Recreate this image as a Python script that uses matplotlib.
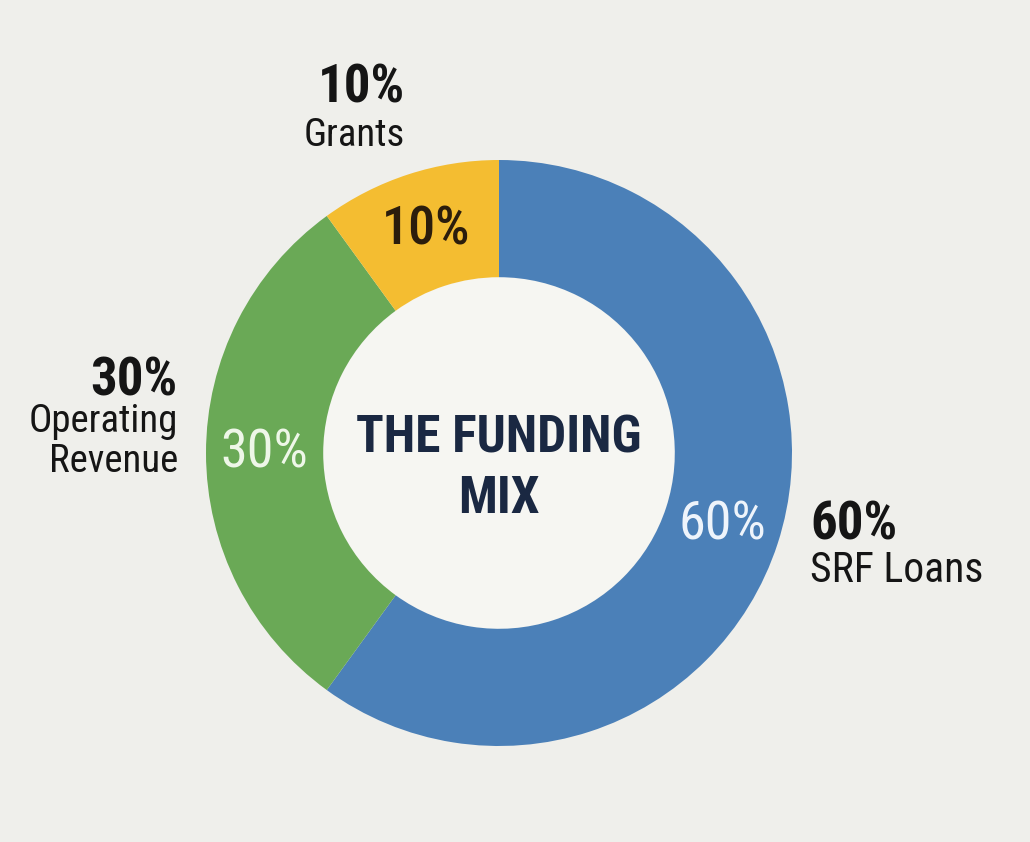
import matplotlib
matplotlib.use('Agg')
import matplotlib.pyplot as plt
from matplotlib import font_manager
from matplotlib.patches import Circle

# data
sources = ['SRF Loans', 'Operating Revenue', 'Grants']
shares = [60, 30, 10]
outer_names = ['SRF Loans', 'Operating\nRevenue', 'Grants']
center_title = ['THE FUNDING', 'MIX']

slice_colors = ['#4b80b8', '#6aa956', '#f4bd31']
pct_colors = ['#eef4fb', '#eef7e8', '#2b1d0c']
bg_color = '#efefeb'
hole_color = '#f6f6f2'


def pick_font(candidates):
    """return the first installed family of the candidates"""
    for name in candidates:
        try:
            font_manager.findfont(font_manager.FontProperties(family=name), fallback_to_default=False)
            return name
        except ValueError:
            pass
    return 'DejaVu Sans'


font = pick_font(['Roboto Condensed', 'Liberation Sans Narrow', 'DejaVu Sans Condensed', 'Roboto'])
plt.rcParams['font.family'] = [font, 'DejaVu Sans']

W, H = 1030, 842
cx, cy, R = 499, 453, 293  # donut centre and radius in pixels


def px(x, y):
    # pixel position (from top left) -> data units of the pie
    return (x - cx) / R, (cy - y) / R


fig = plt.figure(figsize=(W / 100, H / 100), dpi=100, facecolor=bg_color)
ax = fig.add_axes([0, 0, 1, 1])
ax.set_facecolor(bg_color)

ax.add_patch(Circle((0, 0), 0.6, color=hole_color, zorder=0))
wedges, _, autotexts = ax.pie(
    shares, colors=slice_colors, startangle=90, counterclock=False, radius=1,
    wedgeprops=dict(width=0.4, edgecolor='none'),
    autopct=lambda p: '{:.0f}%'.format(p), pctdistance=0.8,
)
for t, c, s in zip(autotexts, pct_colors, shares):
    t.set_color(c)
    t.set_fontsize(39)
    t.set_fontweight('medium' if s == 10 else 'normal')

# outer labels: pct baseline, first name baseline, alignment, name size
outer_pos = [((810, 540), (810, 582), 'left', 30),
             ((178, 396), (178, 432), 'right', 28),
             ((405, 103), (405, 146), 'right', 28)]
line_step = 40  # px between the name lines
for s, name, (p_pos, n_pos, ha, nsize) in zip(shares, outer_names, outer_pos):
    ax.text(*px(*p_pos), '{}%'.format(s), ha=ha, va='baseline', fontsize=38,
            fontweight='bold', color='#151515')
    for i, line in enumerate(name.split('\n')):
        ax.text(*px(n_pos[0], n_pos[1] + i * line_step), line, ha=ha, va='baseline',
                fontsize=nsize, color='#151515')

ax.text(*px(cx, 453), center_title[0], ha='center', va='baseline', fontsize=37,
        fontweight='bold', color='#1a2842')
ax.text(*px(cx, 513), center_title[1], ha='center', va='baseline', fontsize=37,
        fontweight='bold', color='#1a2842')

ax.set_xlim(-cx / R, (W - cx) / R)
ax.set_ylim(-(H - cy) / R, cy / R)
ax.set_aspect('equal')
ax.axis('off')

fig.savefig('out.png', dpi=100, facecolor=bg_color)
